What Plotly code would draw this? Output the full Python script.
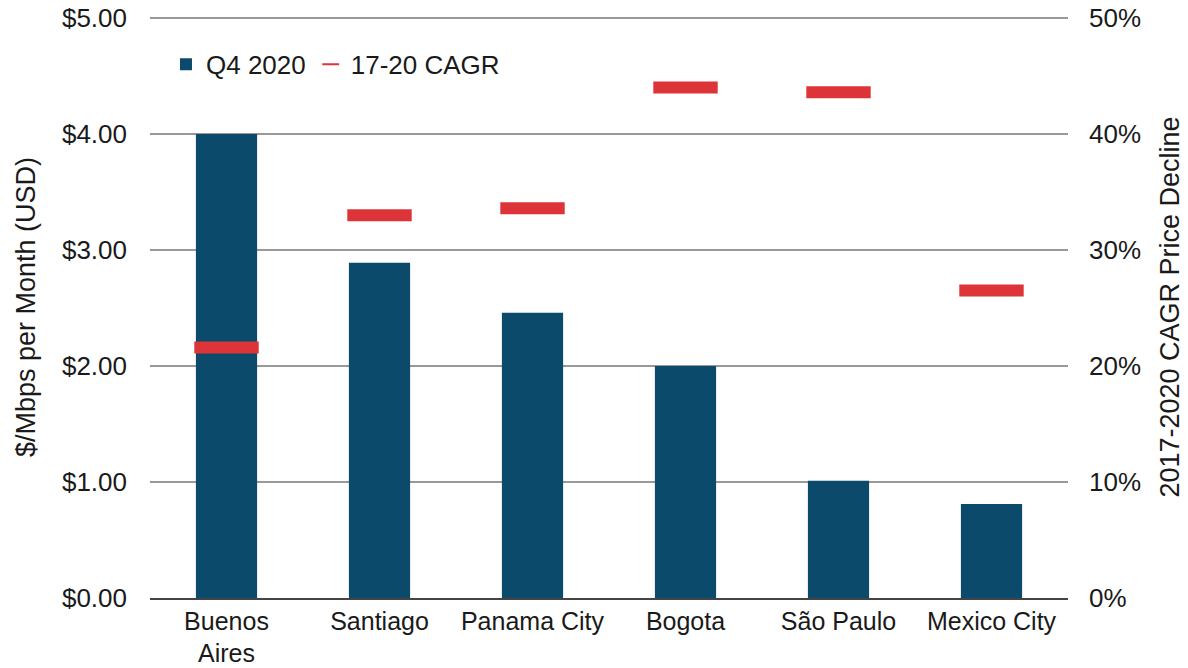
import plotly.graph_objects as go

cities = ["Buenos<br>Aires", "Santiago", "Panama City", "Bogota", "São Paulo", "Mexico City"]
price_q4_2020 = [4.00, 2.89, 2.46, 2.00, 1.01, 0.81]
cagr_17_20 = [21.6, 33.0, 33.6, 44.0, 43.6, 26.5]

left_ticks = [0, 1, 2, 3, 4, 5]
left_labels = ["$0.00", "$1.00", "$2.00", "$3.00", "$4.00", "$5.00"]
right_ticks = [0, 10, 20, 30, 40, 50]
right_labels = ["0%", "10%", "20%", "30%", "40%", "50%"]

BAR = "#0b4a6b"
RED = "#dc3439"
FONT = "Liberation Sans, Arial, sans-serif"
TXT = "#1a1a1a"
FS = 26

fig = go.Figure()
fig.add_trace(go.Bar(
    x=cities, y=price_q4_2020, name="Q4 2020",
    marker=dict(color=BAR, line=dict(width=0)), width=0.4, yaxis="y",
))
fig.add_trace(go.Scatter(
    x=cities, y=cagr_17_20, name="17-20 CAGR", mode="markers",
    marker=dict(symbol="line-ew", size=46, color=RED, line=dict(color=RED, width=12)),
    yaxis="y2",
))

fig.update_layout(
    width=1188, height=668,
    margin=dict(l=150, r=120, t=16, b=70, autoexpand=False),
    paper_bgcolor="white", plot_bgcolor="white",
    font=dict(family=FONT, size=FS, color=TXT),
    showlegend=True,
    legend=dict(orientation="h", x=0.0174, y=0.917, xanchor="left", yanchor="middle",
                font=dict(size=FS, color=TXT), itemsizing="constant",
                bgcolor="rgba(0,0,0,0)", itemwidth=30),
    xaxis=dict(showgrid=False, showline=True, linecolor="#444", linewidth=1.5,
               ticks="", tickfont=dict(size=25, color=TXT), fixedrange=True, automargin=False),
    yaxis=dict(range=[0, 5.017], tickvals=left_ticks, ticktext=left_labels,
               showgrid=True, gridcolor="#999999", gridwidth=1.5, zeroline=False,
               ticks="", ticklabelstandoff=22, automargin=False, ticklabeloverflow="allow",
               tickfont=dict(size=FS, color=TXT),
               title=dict(text="$/Mbps per Month (USD)", font=dict(size=27, color=TXT), standoff=18)),
    yaxis2=dict(range=[0, 50.17], tickvals=right_ticks, ticktext=right_labels,
                overlaying="y", side="right", showgrid=False, zeroline=False,
                ticks="", ticklabelstandoff=20, automargin=False, ticklabeloverflow="allow",
                tickfont=dict(size=FS, color=TXT),
                title=dict(text="2017-2020 CAGR Price Decline", font=dict(size=27, color=TXT), standoff=20)),
)

fig.write_html("out.html", config={"displayModeBar": False})

# remove the browser's default page margin so the figure starts at the window's corner
with open("out.html", encoding="utf-8") as f:
    html = f.read()
html = html.replace("<body>", '<body style="margin:0;overflow:hidden">', 1)
with open("out.html", "w", encoding="utf-8") as f:
    f.write(html)
